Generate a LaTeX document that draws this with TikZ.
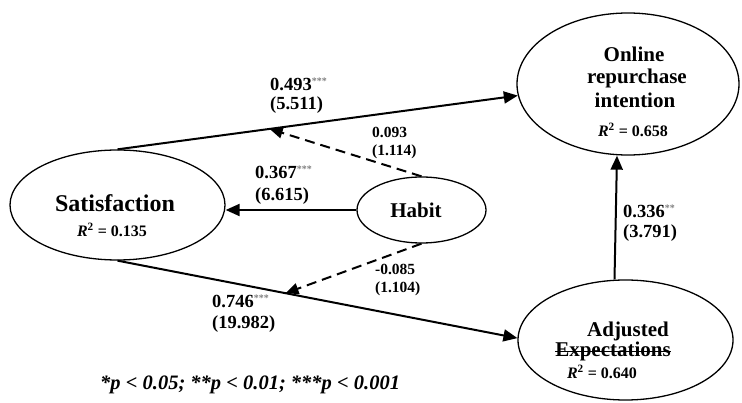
\documentclass[tikz,border=0pt]{standalone}
\usepackage{fontspec}
\setmainfont{Liberation Serif}
\usetikzlibrary{shapes.geometric,arrows.meta,calc}
\newcommand\sigstars[1]{\textsuperscript{\textcolor{gray}{\fontsize{10}{10}\selectfont #1}}}
\begin{document}
\begin{tikzpicture}[x=1pt,y=-1pt,
  lv/.style={draw, ellipse, line width=1.3pt, inner sep=0pt},
  ttl/.style={font=\fontsize{21}{23}\selectfont\bfseries, inner sep=0pt, anchor=base},
  rsq/.style={font=\fontsize{16}{18}\selectfont\bfseries, inner sep=0pt, anchor=base},
  coef/.style={font=\fontsize{18.5}{21}\selectfont\bfseries, inner sep=0pt, anchor=base west},
  coefs/.style={font=\fontsize{15.5}{18}\selectfont\bfseries, inner sep=0pt, anchor=base west},
  solidarr/.style={line width=2pt, -{Triangle[length=14pt,width=12pt]}},
  dasharr/.style={line width=2pt, dash pattern=on 10pt off 6pt, -{Triangle[length=13pt,width=11pt]}},
]
\useasboundingbox (0,0) rectangle (742,403);

% latent variables
\node[lv, minimum width=215pt, minimum height=110pt] (sat) at (117.5,205) {};
\node[lv, minimum width=222pt, minimum height=142pt] (onl) at (628,84) {};
\node[lv, minimum width=215pt, minimum height=120pt] (adj) at (625.5,340) {};
\node[lv, minimum width=129pt, minimum height=66pt] (hab) at (421.5,210) {};

% texts inside
\node[ttl, font=\fontsize{24}{26}\selectfont\bfseries] (satT) at (115,212) {Satisfaction};
\node[rsq] (satR) at (112,237) {\textit{R}\textsuperscript{2} = 0.135};
\node[ttl] (habT) at (416,218) {Habit};
\node[ttl] (onlT1) at (634,62) {Online};
\node[ttl] (onlT2) at (637,84) {repurchase};
\node[ttl] (onlT3) at (635,108) {intention};
\node[rsq] (onlR) at (633,137) {\textit{R}\textsuperscript{2} = 0.658};
\node[ttl] (adjT1) at (628,337) {Adjusted};
\node[ttl] (adjT2) at (613,356) {Expectations};
\node[rsq] (adjR) at (602,379) {\textit{R}\textsuperscript{2} = 0.640};
\draw[line width=0.9pt] (adjT2.west |- 0,351) -- (adjT2.east |- 0,351);

% connector points on paths
\coordinate (upmid) at ($(sat.north)!0.38!(onl.186)$);
\coordinate (lowmid) at ($(sat.south)!0.42!(adj.179)$);

% paths
\draw[solidarr] (sat.north) -- (onl.186);
\draw[solidarr] (sat.south) -- (adj.179);
\draw[solidarr] (hab.west) -- (hab.west -| sat.east);
\draw[solidarr] ([xshift=-11pt]adj.north) -- ([xshift=-11pt]onl.south);
\draw[dasharr] (hab.north) -- (upmid);
\draw[dasharr] (hab.south) -- (lowmid);

% coefficients
\node[coef] (c1a) at (270,91) {0.493\sigstars{***}};
\node[coef] (c1b) at (270,110) {(5.511)};
\node[coefs] (c2a) at (372,138) {0.093};
\node[coefs] (c2b) at (372,156) {(1.114)};
\node[coef] (c3a) at (255,179) {0.367\sigstars{***}};
\node[coef] (c3b) at (255,201) {(6.615)};
\node[coefs] (c4a) at (375,275) {-0.085};
\node[coefs] (c4b) at (375,293) {(1.104)};
\node[coef] (c5a) at (212,308) {0.746\sigstars{***}};
\node[coef] (c5b) at (212,329) {(19.982)};
\node[coef] (c6a) at (623,218) {0.336\sigstars{**}};
\node[coef] (c6b) at (623,238) {(3.791)};

% footnote
\node[font=\fontsize{20.5}{22}\selectfont\bfseries\itshape, inner sep=0pt, anchor=base west] (note) at (100,390) {*p < 0.05; **p < 0.01; ***p < 0.001};
\end{tikzpicture}
\end{document}
